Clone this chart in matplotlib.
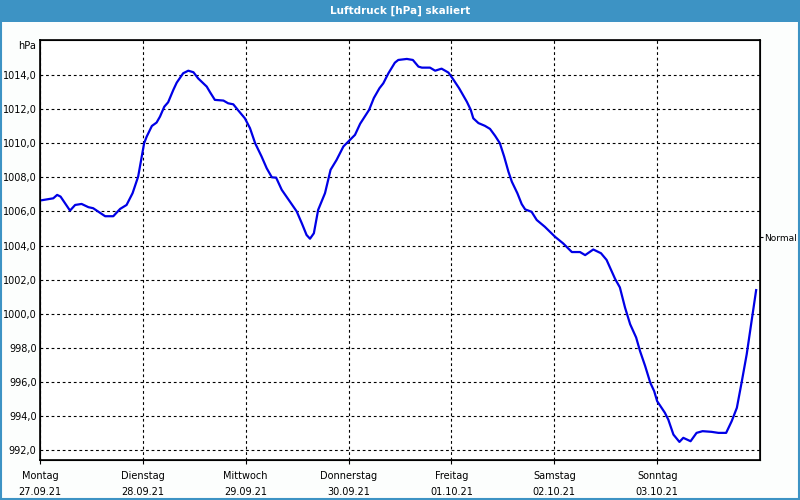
import numpy as np
import matplotlib.pyplot as plt
from matplotlib.patches import Rectangle

# hours since Monday 27.09.21 00:00, pressure in hPa
hours = [0.0, 3.1, 4.0, 4.8, 7.0, 8.2, 9.7, 11.3, 12.4, 15.2, 17.1, 18.7, 20.2, 21.6, 22.9,
         23.6, 24.3, 24.9, 26.1, 27.2, 28.0, 29.0, 29.9, 31.1, 31.9, 33.4, 34.6, 35.8, 36.9,
         38.9, 39.7, 40.8, 42.8, 43.9, 45.1, 46.3, 47.8, 49.0, 50.2, 51.7, 52.9, 54.1, 55.1,
         56.4, 58.3, 59.9, 61.1, 62.2, 63.0, 63.9, 64.9, 66.5, 67.8, 69.2, 70.8, 72.2, 73.5,
         74.7, 75.8, 76.8, 77.9, 79.2, 80.1, 81.3, 82.8, 83.6, 85.6, 87.0, 88.3, 89.1, 91.0,
         92.2, 93.7, 95.3, 96.4, 97.8, 99.6, 100.5, 101.1, 102.3, 103.8, 105.0, 106.2, 107.3,
         108.3, 109.3, 110.1, 111.4, 112.4, 113.2, 114.7, 115.9, 117.8, 120.2, 122.1, 124.1,
         126.0, 127.2, 129.1, 130.9, 132.2, 134.2, 135.3, 136.5, 137.7, 139.1, 140.0, 141.2,
         142.4, 143.3, 144.0, 145.8, 146.6, 147.8, 149.2, 150.1, 151.8, 153.2, 154.6, 156.7,
         158.3, 160.1, 161.4, 162.6, 163.7, 164.9, 166.1, 167.1]
pressure = [1006.64, 1006.77, 1006.97, 1006.87, 1006.05, 1006.38, 1006.44, 1006.25, 1006.19,
            1005.72, 1005.72, 1006.15, 1006.38, 1007.07, 1008.04, 1009.02, 1010.0, 1010.39,
            1011.01, 1011.21, 1011.56, 1012.14, 1012.4, 1013.12, 1013.55, 1014.1, 1014.25,
            1014.16, 1013.8, 1013.32, 1012.98, 1012.54, 1012.5, 1012.34, 1012.28, 1011.91,
            1011.46, 1010.88, 1010.0, 1009.22, 1008.53, 1008.0, 1007.98, 1007.27, 1006.58,
            1006.0, 1005.3, 1004.62, 1004.4, 1004.72, 1006.09, 1007.07, 1008.44, 1009.02,
            1009.81, 1010.16, 1010.49, 1011.14, 1011.57, 1011.96, 1012.65, 1013.22, 1013.51,
            1014.1, 1014.72, 1014.88, 1014.94, 1014.88, 1014.49, 1014.43, 1014.43, 1014.25,
            1014.37, 1014.14, 1013.75, 1013.22, 1012.43, 1011.96, 1011.46, 1011.18, 1011.02,
            1010.84, 1010.43, 1010.0, 1009.22, 1008.33, 1007.74, 1007.06, 1006.43, 1006.12,
            1005.98, 1005.5, 1005.1, 1004.51, 1004.12, 1003.62, 1003.62, 1003.44, 1003.77,
            1003.55, 1003.16, 1002.04, 1001.55, 1000.37, 999.39, 998.61, 997.82, 996.94,
            995.96, 995.47, 994.88, 994.2, 993.8, 992.92, 992.49, 992.73, 992.53, 993.02,
            993.12, 993.08, 993.02, 993.02, 993.71, 994.49, 995.96, 997.63, 999.69, 1001.39]

day_labels = ["Montag\n27.09.21", "Dienstag\n28.09.21", "Mittwoch\n29.09.21",
              "Donnerstag\n30.09.21", "Freitag\n01.10.21", "Samstag\n02.10.21",
              "Sonntag\n03.10.21"]
y_ticks = [992, 994, 996, 998, 1000, 1002, 1004, 1006, 1008, 1010, 1012, 1014]
normal_value = 1004.5

plt.rcParams['font.family'] = 'DejaVu Sans'
plt.rcParams['font.size'] = 7

fig = plt.figure(figsize=(8, 5), dpi=100)
fig.patch.set_facecolor('#fcfefd')

# window title bar and frame
bar_col = '#3d93c4'
fig.patches.append(Rectangle((0, 1 - 22 / 500), 1, 22 / 500, transform=fig.transFigure,
                             facecolor=bar_col, edgecolor='none', zorder=0))
fig.patches.append(Rectangle((0.001, 0.002), 0.998, 0.996, transform=fig.transFigure,
                             facecolor='none', edgecolor=bar_col, lw=1.5, zorder=0))
fig.text(0.5, 1 - 11 / 500, "Luftdruck [hPa] skaliert", color='white', fontweight='bold',
         fontsize=7.5, ha='center', va='center')

ax = fig.add_axes([40 / 800, 40 / 500, 720 / 800, 420 / 500])
ax.set_facecolor('white')
ax.plot(hours, pressure, color='#0000e6', lw=1.6, zorder=3)

ax.set_xlim(0, 168)
ax.set_ylim(991.43, 1016.05)
ax.set_xticks(np.arange(0, 168, 24))
ax.set_xticklabels(day_labels, linespacing=1.7)
ax.set_yticks(y_ticks)
ax.set_yticklabels([("%.1f" % v).replace('.', ',') for v in y_ticks])
ax.tick_params(axis='y', length=0, pad=2.5)
ax.tick_params(axis='x', length=3, direction='out', pad=5)
ax.grid(True, color='black', linestyle=(0, (2.5, 2.5)), lw=0.8)
for sp in ax.spines.values():
    sp.set_linewidth(1.2)

ax.text(-0.005, 0.985, "hPa", transform=ax.transAxes, ha='right', va='center')

ax2 = ax.twinx()
ax2.set_ylim(ax.get_ylim())
ax2.set_yticks([normal_value])
ax2.set_yticklabels(["Normal"], fontsize=6.5)
ax2.tick_params(axis='y', length=2.5, direction='out', pad=0.5)

fig.savefig("out.png", dpi=100, facecolor=fig.get_facecolor())
